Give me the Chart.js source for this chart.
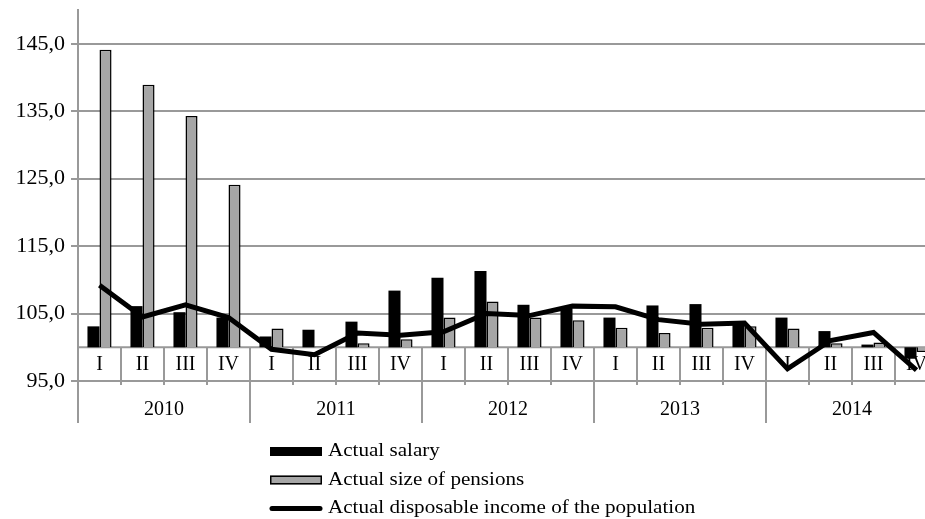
<!DOCTYPE html>
<html>
<head>
<meta charset="utf-8">
<script src="https://cdn.jsdelivr.net/npm/chart.js@4.4.0/dist/chart.umd.min.js"></script>
<style>
  html, body { margin: 0; padding: 0; background: #fff; overflow: hidden; }
  #wrap { position: relative; width: 945px; height: 519px; }
</style>
</head>
<body>
<div id="wrap"><canvas id="income-chart"></canvas></div>
<script>
const years = ["2010", "2011", "2012", "2013", "2014"];
const quarters = ["I", "II", "III", "IV"];
const salary = [103.1, 106.1, 105.2, 104.4, 101.6, 102.6, 103.8, 108.4, 110.3, 111.3,
                106.3, 105.9, 104.4, 106.2, 106.4, 103.6, 104.4, 102.4, 100.4, 98.3];
const pensions = [144.1, 138.9, 134.3, 124.1, 102.8, 100.1, 100.6, 101.2, 104.4, 106.8,
                  104.4, 104.0, 102.9, 102.1, 102.9, 103.1, 102.8, 100.6, 100.7, 99.3];
const income = [109.2, 104.5, 106.3, 104.4, 99.7, 98.9, 102.1, 101.8, 102.3, 105.0,
                104.7, 106.1, 106.0, 104.1, 103.4, 103.6, 96.8, 101.0, 102.2, 96.6];
const yTicks = [95, 105, 115, 125, 135, 145];

const gridColor = "#999999";
const fontFamily = "'Liberation Serif', 'Times New Roman', serif";

// one label per quarter, e.g. "I 2010"
const labels = [];
years.forEach(yr => quarters.forEach(q => labels.push(q + " " + yr)));

// quarter boxes on the 100 line and the year row under them
const quarterTable = {
    id: "quarterTable",
    beforeDatasetsDraw(chart) {
        const ctx = chart.ctx;
        const x = chart.scales.x;
        const y = chart.scales.y;
        const area = chart.chartArea;
        const base = y.getPixelForValue(100);
        const bottom = y.getPixelForValue(95);
        const step = x.getPixelForValue(1) - x.getPixelForValue(0);
        ctx.save();
        ctx.strokeStyle = gridColor;
        ctx.lineWidth = 2;
        ctx.beginPath();
        ctx.moveTo(area.left, base);
        ctx.lineTo(area.right, base);
        ctx.stroke();
        ctx.fillStyle = "#000";
        ctx.font = "20px " + fontFamily;
        ctx.textAlign = "center";
        ctx.textBaseline = "middle";
        labels.forEach((lab, i) => {
            const left = x.getPixelForValue(i) - step / 2;
            ctx.beginPath();
            ctx.moveTo(left, base);
            ctx.lineTo(left, i % 4 === 0 ? bottom + 42 : bottom + 4);
            ctx.stroke();
            ctx.fillText(quarters[i % 4], x.getPixelForValue(i), (base + bottom) / 2 + 1);
        });
        years.forEach((yr, k) => {
            const centre = (x.getPixelForValue(k * 4) + x.getPixelForValue(k * 4 + 3)) / 2;
            ctx.fillText(yr, centre, bottom + 29);
        });
        ctx.restore();
    },
    afterDraw(chart) {
        // legend stacked in one column under the chart
        const ctx = chart.ctx;
        ctx.save();
        ctx.font = "19px " + fontFamily;
        ctx.textAlign = "left";
        ctx.textBaseline = "middle";
        chart.data.datasets.forEach((ds, i) => {
            const rowY = 451.5 + i * 28.5;
            if (ds.type === "line") {
                ctx.strokeStyle = ds.borderColor;
                ctx.lineWidth = 5;
                ctx.lineCap = "round";
                ctx.beginPath();
                ctx.moveTo(272, rowY);
                ctx.lineTo(320, rowY);
                ctx.stroke();
            } else {
                ctx.fillStyle = ds.backgroundColor;
                ctx.fillRect(270, rowY - 4.5, 52, 9);
                if (ds.borderWidth) {
                    ctx.strokeStyle = ds.borderColor;
                    ctx.lineWidth = 1.5;
                    ctx.strokeRect(270.75, rowY - 3.75, 50.5, 7.5);
                }
            }
            ctx.save();
            ctx.translate(328, rowY);
            ctx.scale(1.11, 1);
            ctx.fillStyle = "#000";
            ctx.fillText(ds.label, 0, 0);
            ctx.restore();
        });
        ctx.restore();
    }
};

new Chart(document.getElementById("income-chart"), {
    type: "bar",
    data: {
        labels: labels,
        datasets: [{
            label: "Actual salary",
            data: salary,
            base: 100,
            backgroundColor: "#000000",
            borderWidth: 0,
            order: 1
        }, {
            label: "Actual size of pensions",
            data: pensions,
            base: 100,
            backgroundColor: "#a6a6a6",
            borderColor: "#000000",
            borderWidth: 1.5,
            order: 1
        }, {
            type: "line",
            label: "Actual disposable income of the population",
            data: income,
            borderColor: "#000000",
            borderWidth: 5,
            pointRadius: 0,
            tension: 0,
            order: 0
        }]
    },
    options: {
        responsive: true,
        maintainAspectRatio: false,
        animation: false,
        layout: { padding: { top: 10, right: 7, bottom: 138, left: 0 } },
        datasets: {
            bar: { categoryPercentage: 0.56, barPercentage: 1.0 }
        },
        plugins: {
            legend: { display: false },
            tooltip: { enabled: false }
        },
        scales: {
            x: { display: false },
            y: {
                min: 95,
                max: 150,
                afterBuildTicks: scale => {
                    scale.ticks = yTicks.map(v => ({ value: v }));
                },
                afterFit: scale => {
                    scale.width = 78;
                    scale.paddingTop = 0;
                    scale.paddingBottom = 0;
                },
                grid: { color: gridColor, lineWidth: 2, tickLength: 7 },
                border: { color: gridColor, width: 2 },
                ticks: {
                    color: "#000",
                    padding: 6,
                    font: { family: fontFamily, size: 22 },
                    callback: v => v.toFixed(1).replace(".", ",")
                }
            }
        }
    },
    plugins: [quarterTable]
});
</script>
</body>
</html>
